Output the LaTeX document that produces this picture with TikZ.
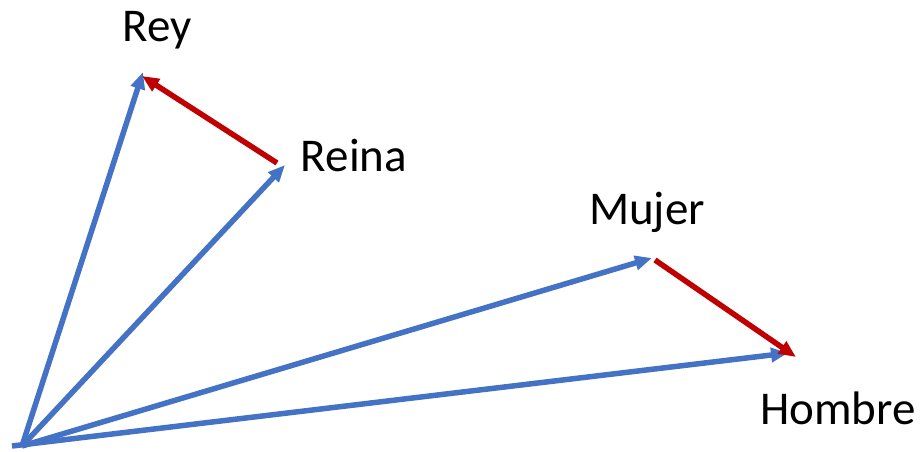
\documentclass[tikz,border=0pt]{standalone}
\usepackage{fontspec}
\setmainfont{Carlito}
\usetikzlibrary{arrows.meta,positioning}

\begin{document}
\begin{tikzpicture}[
x=1pt,
y=-1pt,
vec/.style={
  draw=vecblue,
  line width=5.5pt,
  -{Triangle[length=17pt,width=14pt]}
  },
diff/.style={
  draw=diffred,
  line width=5.5pt,
  -{Triangle[length=17pt,width=14pt]}
  },
word/.style={
  font=\fontsize{47}{56}\selectfont,
  inner sep=0pt
  }
]
\definecolor{vecblue}{RGB}{68,114,196}
\definecolor{diffred}{RGB}{192,0,0}
\useasboundingbox (0,0) rectangle (922,451);

\coordinate (o) at (22,446);
\coordinate (rey) at (143,72);
\coordinate (reina) at (285,165);
\coordinate (mujer) at (652,258);
\coordinate (hombre) at (788,353);
\coordinate (reina0) at (277,163);
\coordinate (mujer0) at (655,260);
\coordinate (hombre1) at (796,357);
\coordinate (rey1) at (142,76);

\node[word] (lrey) at (157,30) {Rey};
\node[word] (lreina) at (354,155) {Reina};
\node[word] (lmujer) at (647,212) {Mujer};
\node[word] (lhombre) at (838,408) {Hombre};

\draw[vec] (o) -- (rey);
\draw[vec] (o) -- (reina);
\draw[vec] (o) -- (mujer);
\draw[vec] ([xshift=-10pt]o) -- (hombre);

\draw[diff] (reina0) -- (rey1);
\draw[diff] (mujer0) -- (hombre1);

\end{tikzpicture}
\end{document}
